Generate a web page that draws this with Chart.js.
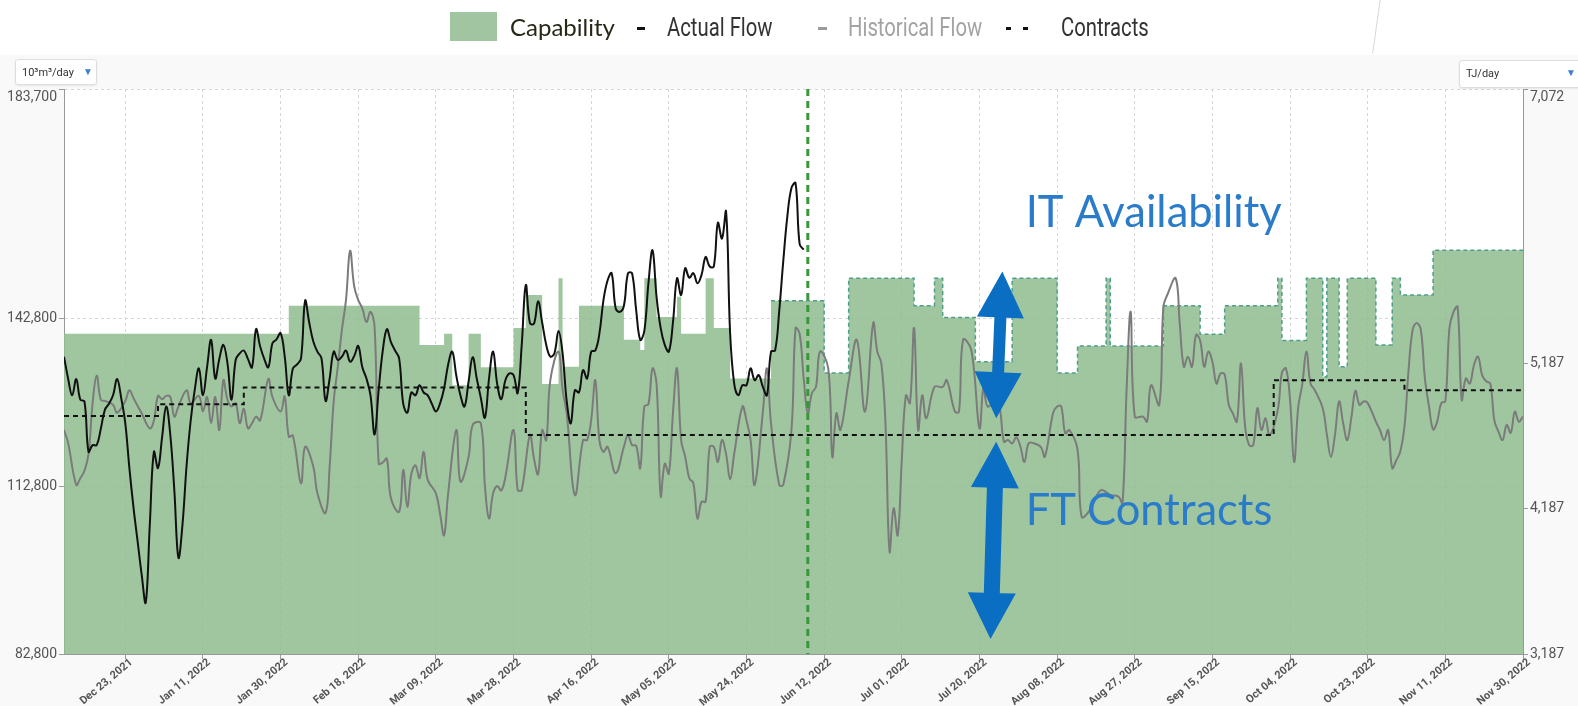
<!DOCTYPE html>
<html>
<head>
<meta charset="utf-8">
<title>Capability, flows and contracts</title>
<script src="https://cdn.jsdelivr.net/npm/chart.js@4/dist/chart.umd.min.js"></script>
<style>
  body { margin: 0; background: #fff; font-family: Roboto, sans-serif; }
  #page { position: relative; width: 1578px; height: 706px; overflow: hidden; }
  #panel { position: absolute; left: 0; top: 55px; right: 0; bottom: 0; background: #f9f9f9; }
  #flow { position: absolute; left: 0; top: 0; }
  .lg { position: absolute; top: 11px; height: 32px; line-height: 32px; white-space: nowrap; }
  .narrow { font-family: Roboto, sans-serif; font-size: 26px; transform: scaleX(0.78); transform-origin: 0 50%; }
  .dash { position: absolute; height: 3px; }
  .unit { position: absolute; background: #fff; border: 1px solid #dedede; border-radius: 3px;
          box-shadow: 0 1px 2px rgba(0,0,0,0.08); font-size: 11px; color: #333; }
  .unit span { position: absolute; top: 6px; }
  .unit .tri { color: #3f7fd0; font-size: 10px; top: 6px; }
  #scratch { position: absolute; left: 1376px; top: -2px; width: 1px; height: 56px; background: #d8d8d8; transform: rotate(8deg); }
</style>
</head>
<body>
<div id="page">
  <div id="panel"></div>
  <div id="scratch"></div>
  <canvas id="flow" width="1578" height="706"></canvas>

  <div class="lg" style="left:450px;width:47px;height:29px;top:12px;background:#a0c5a0;"></div>
  <div class="lg" style="left:510px;font-family:Lato,sans-serif;font-size:24px;color:#272716;">Capability</div>
  <div class="dash" style="left:637px;top:27px;width:8px;background:#111;"></div>
  <div class="lg narrow" style="left:667px;color:#333;">Actual Flow</div>
  <div class="dash" style="left:818px;top:27px;width:9px;background:#9a9a9a;"></div>
  <div class="lg narrow" style="left:848px;color:#a3a3a3;">Historical Flow</div>
  <div class="dash" style="left:1006px;top:27px;width:5px;background:#111;"></div>
  <div class="dash" style="left:1023px;top:27px;width:5px;background:#111;"></div>
  <div class="lg narrow" style="left:1061px;color:#333;">Contracts</div>

  <div class="unit" style="left:15px;top:59px;width:80px;height:24px;">
    <span style="left:6px;">10³m³/day</span><span class="tri" style="left:67px;">▼</span>
  </div>
  <div class="unit" style="left:1459px;top:60px;width:130px;height:26px;">
    <span style="left:6px;">TJ/day</span><span class="tri" style="left:106px;">▼</span>
  </div>
</div>

<script>
// days are counted from 8 Dec 2021 (day 0) to 30 Nov 2022 (day 357)
const tickDays = [15, 34, 53, 72, 91, 110, 129, 148, 167, 186, 205, 224, 243, 262, 281, 300, 319, 338, 357];
const tickLabels = ['Dec 23, 2021', 'Jan 11, 2022', 'Jan 30, 2022', 'Feb 18, 2022', 'Mar 09, 2022',
  'Mar 28, 2022', 'Apr 16, 2022', 'May 05, 2022', 'May 24, 2022', 'Jun 12, 2022', 'Jul 01, 2022',
  'Jul 20, 2022', 'Aug 08, 2022', 'Aug 27, 2022', 'Sep 15, 2022', 'Oct 04, 2022', 'Oct 23, 2022',
  'Nov 11, 2022', 'Nov 30, 2022'];
const leftTicks = [82800, 112800, 142800, 183700];   // 10³m³/day
const rightTicks = [3187, 4187, 5187, 7072];          // TJ/day

// capability (step changes: value holds from that day)
const capDays = [0, 55, 87, 93, 95, 99, 102, 110, 113, 117, 121, 122, 126, 137, 141, 142, 145, 150, 151,
  157, 159, 163, 173, 186, 192, 208, 213, 215, 223, 232, 243, 248, 255, 256, 269, 278, 284, 297, 298,
  304, 308, 309, 312, 314, 321, 325, 327, 335, 357];
const capValues = [140000, 145000, 138000, 140000, 130800, 140000, 134000, 141000, 146900, 131000, 149900,
  134100, 145000, 138900, 137100, 149900, 143000, 146600, 140000, 149900, 141000, 132000, 145900, 133000,
  149900, 145000, 149900, 142900, 135000, 149900, 133000, 137800, 149900, 137800, 145000, 139900, 145000,
  149900, 138800, 149900, 132300, 149900, 134100, 149900, 138000, 149900, 146900, 154900, 154900];

// firm contracts (step changes)
const contractDays = [0, 23, 44, 113, 296, 328, 357];
const contractValues = [125300, 127400, 130400, 121900, 131700, 129900, 129900];

// actual flow, daily, up to 7 Jun 2022
const actualFlow = [135900, 132000, 129000, 131900, 128200, 127900, 118900, 120100, 120100, 123000,
  126400, 127500, 129000, 131900, 128500, 124000, 116000, 109000, 103000, 97000,
  92000, 106000, 118900, 116000, 121500, 127000, 122000, 112000, 100000, 106000,
  116500, 124500, 130000, 133800, 129000, 134000, 138900, 132000, 135500, 138000,
  134700, 128200, 135300, 136500, 137000, 135500, 134000, 140800, 137700, 135500,
  134000, 138300, 139000, 140100, 136000, 129000, 133800, 134500, 135600, 145900,
  142000, 138600, 136800, 135600, 128000, 132000, 136800, 135300, 135900, 137000,
  135000, 136000, 137800, 134000, 132000, 129000, 122000, 130000, 137000, 140800,
  138500, 137000, 135600, 127500, 125900, 129500, 129000, 130800, 129500, 129000,
  127500, 126100, 127500, 130200, 134500, 136800, 132500, 129000, 127000, 131500,
  135800, 132000, 128500, 125000, 132000, 136800, 131000, 128300, 131700, 132900,
  132600, 129400, 138000, 148700, 141900, 141800, 145800, 142000, 138000, 135900,
  136500, 140500, 136500, 128000, 124000, 129900, 129500, 133500, 132000, 136800,
  137000, 140000, 146000, 149500, 150800, 144500, 143900, 145000, 150800, 150800,
  144200, 138900, 140500, 149000, 154900, 146500, 141000, 138000, 136800, 142000,
  149900, 146900, 151700, 150000, 150800, 149000, 150500, 153700, 152000, 152000,
  159800, 157000, 161800, 140000, 131000, 129000, 130800, 130800, 133800, 131700,
  132600, 130500, 129000, 136800, 137000, 144000, 153000, 161000, 166000, 166900,
  156000, 155000];

// historical flow (day, value)
const histDays = [0, 1, 3, 4, 5, 6, 7, 8, 9, 10, 12, 13, 15, 16, 17, 19, 21, 22, 23, 24, 25, 26, 27, 28,
  30, 31, 33, 34, 35, 36, 37, 38, 39, 40, 41, 42, 43, 44, 45, 46, 47, 48, 50, 51, 53, 54, 55, 56, 58, 59,
  61, 62, 64, 65, 66, 67, 68, 69, 70, 71, 72, 73, 74, 75, 76, 77, 78, 79, 80, 82, 83, 84, 85, 86, 87, 88,
  89, 91, 92, 93, 94, 96, 97, 99, 100, 102, 103, 104, 105, 106, 107, 108, 110, 111, 112, 114, 115, 116,
  117, 118, 119, 121, 122, 123, 125, 127, 128, 129, 130, 131, 132, 133, 135, 137, 138, 139, 140, 141, 142,
  143, 144, 145, 146, 147, 148, 149, 150, 151, 152, 153, 154, 155, 156, 157, 158, 159, 160, 161, 162, 163,
  164, 166, 167, 168, 169, 171, 172, 173, 175, 176, 178, 179, 180, 181, 182, 183, 184, 185, 187, 188, 189,
  190, 192, 194, 196, 198, 199, 200, 201, 202, 203, 204, 205, 206, 207, 208, 209, 210, 211, 213, 215, 216,
  218, 219, 220, 222, 224, 225, 226, 228, 229, 230, 231, 232, 233, 234, 235, 236, 237, 239, 240, 242, 243,
  244, 245, 246, 248, 249, 251, 253, 254, 256, 258, 259, 260, 261, 262, 264, 265, 266, 268, 269, 270, 272,
  273, 274, 275, 276, 277, 278, 279, 280, 281, 282, 283, 284, 285, 286, 287, 288, 289, 290, 291, 292, 293,
  294, 295, 297, 298, 299, 300, 301, 302, 303, 304, 305, 306, 308, 309, 310, 311, 312, 313, 314, 315, 316,
  317, 318, 319, 321, 322, 323, 324, 325, 326, 327, 328, 329, 330, 331, 332, 333, 334, 335, 336, 337, 338,
  339, 340, 341, 342, 343, 344, 345, 346, 347, 348, 349, 350, 351, 352, 353, 354, 355, 356, 357];
const histValues = [122800, 120500, 113000, 114200, 115500, 118500, 127600, 132500, 128200, 128000,
  127300, 125900, 128000, 129900, 128500, 125800, 123100, 124500, 128900, 128300, 128900, 128700, 125200,
  127000, 129900, 127600, 128900, 126100, 128700, 124000, 128700, 122800, 131700, 128200, 127000, 127600,
  124000, 126600, 123100, 124000, 125200, 124500, 131900, 128700, 126100, 128800, 121600, 121800, 113300,
  119800, 116300, 111500, 108000, 116300, 128000, 134100, 140700, 146000, 154800, 148500, 146000, 144500,
  142100, 143900, 141200, 116800, 117000, 117700, 110600, 108200, 115700, 109100, 115000, 116500, 114200,
  118900, 113900, 111500, 107900, 104000, 111500, 122800, 113600, 118000, 123700, 124000, 112700, 107000,
  111500, 112800, 112000, 114400, 122800, 112100, 112100, 121900, 117700, 114900, 122800, 121000, 131700,
  136800, 130000, 125800, 111200, 121000, 121000, 124600, 131700, 121000, 118900, 119800, 115100, 119800,
  121900, 120100, 120000, 116000, 127000, 127400, 133800, 131000, 111000, 116800, 115000, 125800, 133800,
  121000, 118000, 114200, 113300, 107000, 110000, 110000, 119800, 119800, 117100, 121000, 118500, 114000,
  118600, 127000, 124500, 121000, 113000, 126000, 133800, 124000, 113000, 113000, 122800, 141000, 140000,
  132000, 125800, 129400, 130500, 136800, 133800, 118000, 125800, 122800, 131500, 138900, 126100, 141900,
  136800, 134700, 124000, 101100, 108800, 104000, 117500, 129000, 127600, 141000, 122800, 129000, 124900,
  130500, 130500, 131700, 126100, 126100, 138900, 137100, 123100, 130500, 127000, 128000, 126500, 120700,
  121000, 120400, 121500, 119900, 117100, 120400, 120500, 119800, 118000, 125800, 127000, 127000, 122200,
  122800, 119300, 107300, 108500, 111500, 112100, 111200, 110900, 109700, 129900, 143900, 125200, 125200,
  124300, 130800, 127300, 144800, 147000, 149900, 141900, 134100, 135900, 134100, 139800, 138800, 134100,
  136800, 135000, 131100, 132900, 132700, 127300, 125800, 124300, 134700, 123400, 120100, 120100, 126700,
  122800, 124900, 121900, 126400, 133000, 133800, 128200, 117100, 126900, 131000, 136800, 131100, 130000,
  126700, 122000, 118000, 122000, 127900, 124000, 121000, 125000, 129800, 127300, 127900, 127600, 124300,
  122800, 121000, 122800, 116000, 117400, 119000, 123400, 133500, 140700, 141900, 140700, 132000, 127000,
  122900, 124300, 127600, 127900, 141000, 143900, 144800, 128200, 132000, 131100, 134400, 135900, 132600,
  131500, 131100, 124500, 122500, 121000, 123700, 122300, 126100, 124300, 125200];

const todayDay = 182;      // 8 Jun 2022
const forecastDay = 173;   // capability shown as forecast from here

// annotations in data units
const arrows = [
  { dayTop: 229.6, top: 151100, dayBottom: 228.1, bottom: 124900, shaft: 12, headW: 47, headL: 46 },
  { dayTop: 228.1, top: 120700, dayBottom: 226.7, bottom: 85500, shaft: 16, headW: 48, headL: 46 }
];
const notes = [
  { text: 'IT Availability', day: 235.3, value: 161500 },
  { text: 'FT Contracts', day: 235.3, value: 108300 }
];

function pairs(xs, ys) {
  return xs.map((x, i) => ({ x: x, y: ys[i] }));
}

// the top tick label sits just below the axis end
function axisLabel(v, top) {
  const s = v.toLocaleString('en-US');
  return v === top ? ['', s] : s;
}

function doubleArrow(ctx, x1, y1, x2, y2, a) {
  const len = Math.hypot(x2 - x1, y2 - y1);
  ctx.save();
  ctx.translate(x1, y1);
  ctx.rotate(Math.atan2(y2 - y1, x2 - x1));
  ctx.beginPath();
  ctx.moveTo(0, 0);
  ctx.lineTo(a.headL, -a.headW / 2);
  ctx.lineTo(a.headL, -a.shaft / 2);
  ctx.lineTo(len - a.headL, -a.shaft / 2);
  ctx.lineTo(len - a.headL, -a.headW / 2);
  ctx.lineTo(len, 0);
  ctx.lineTo(len - a.headL, a.headW / 2);
  ctx.lineTo(len - a.headL, a.shaft / 2);
  ctx.lineTo(a.headL, a.shaft / 2);
  ctx.lineTo(a.headL, a.headW / 2);
  ctx.closePath();
  ctx.fill();
  ctx.restore();
}

const extras = {
  id: 'extras',
  beforeDraw(chart) {
    const { ctx, chartArea: a } = chart;
    ctx.save();
    ctx.fillStyle = '#ffffff';
    ctx.fillRect(a.left, a.top, a.right - a.left, a.bottom - a.top);
    ctx.restore();
  },
  afterDatasetsDraw(chart) {
    const { ctx, chartArea: a } = chart;
    const x = chart.scales.x, y = chart.scales.y;

    // today marker
    const tx = x.getPixelForValue(todayDay);
    ctx.save();
    ctx.strokeStyle = '#3a963a';
    ctx.lineWidth = 3;
    ctx.setLineDash([7, 5]);
    ctx.beginPath();
    ctx.moveTo(tx, a.top);
    ctx.lineTo(tx, a.bottom);
    ctx.stroke();
    ctx.restore();

    ctx.save();
    ctx.fillStyle = '#0a6fc2';
    arrows.forEach(ar => {
      doubleArrow(ctx, x.getPixelForValue(ar.dayTop), y.getPixelForValue(ar.top),
        x.getPixelForValue(ar.dayBottom), y.getPixelForValue(ar.bottom), ar);
    });
    ctx.fillStyle = '#2a7bc9';
    ctx.font = '43.5px Lato, sans-serif';
    ctx.textAlign = 'left';
    ctx.textBaseline = 'middle';
    notes.forEach(n => {
      ctx.fillText(n.text, x.getPixelForValue(n.day), y.getPixelForValue(n.value));
    });
    ctx.restore();
  }
};

Chart.defaults.font.family = 'Roboto, sans-serif';

const chart = new Chart(document.getElementById('flow'), {
  type: 'line',
  data: {
    datasets: [
      {
        label: 'Actual Flow',
        data: actualFlow.map((v, i) => ({ x: i, y: v })),
        borderColor: '#111111',
        borderWidth: 2,
        tension: 0.4,
        pointRadius: 0,
        fill: false,
        order: 1
      },
      {
        label: 'Contracts',
        data: pairs(contractDays, contractValues),
        borderColor: '#111111',
        borderWidth: 2,
        borderDash: [5, 4],
        stepped: true,
        pointRadius: 0,
        fill: false,
        order: 2
      },
      {
        label: 'Historical Flow',
        data: pairs(histDays, histValues),
        borderColor: '#7b7b7b',
        borderWidth: 2,
        tension: 0.4,
        pointRadius: 0,
        fill: false,
        order: 3
      },
      {
        label: 'Capability',
        data: pairs(capDays, capValues),
        stepped: true,
        fill: 'start',
        backgroundColor: 'rgba(143, 188, 143, 0.85)',
        borderColor: 'rgba(0, 0, 0, 0)',
        borderWidth: 1.5,
        pointRadius: 0,
        segment: {
          borderColor: c => c.p0.parsed.x >= forecastDay ? '#4f9e8c' : 'rgba(0, 0, 0, 0)',
          borderDash: c => c.p0.parsed.x >= forecastDay ? [4, 3] : []
        },
        order: 4
      }
    ]
  },
  options: {
    responsive: false,
    animation: false,
    layout: { padding: { top: 89, left: 0, right: 0, bottom: 0 } },
    plugins: {
      legend: { display: false },
      tooltip: { enabled: false }
    },
    scales: {
      x: {
        type: 'linear',
        min: 0,
        max: 357,
        afterBuildTicks: s => { s.ticks = tickDays.map(v => ({ value: v })); },
        afterFit: s => { s.height = 52; },
        ticks: {
          autoSkip: false,
          minRotation: 40,
          maxRotation: 40,
          padding: -3,
          labelOffset: 6,
          color: '#555',
          font: { size: 11, weight: 'bold' },
          callback: v => tickLabels[tickDays.indexOf(v)]
        },
        grid: { color: '#d6d6d6', tickColor: '#999', tickLength: 5 },
        border: { color: '#999', dash: [3, 3] }
      },
      y: {
        position: 'left',
        min: 82800,
        max: 183700,
        afterBuildTicks: s => { s.ticks = leftTicks.map(v => ({ value: v })); },
        afterFit: s => { s.width = 64; },
        ticks: {
          padding: 2,
          color: '#555',
          font: { size: 14 },
          callback: v => axisLabel(v, leftTicks[leftTicks.length - 1])
        },
        grid: { color: '#d6d6d6', tickColor: '#999', tickLength: 5 },
        border: { color: '#999', dash: [3, 3] }
      },
      y2: {
        position: 'right',
        min: 3187,
        max: 7072,
        afterBuildTicks: s => { s.ticks = rightTicks.map(v => ({ value: v })); },
        afterFit: s => { s.width = 55; },
        ticks: {
          padding: 2,
          color: '#555',
          font: { size: 14 },
          callback: v => axisLabel(v, rightTicks[rightTicks.length - 1])
        },
        grid: { drawOnChartArea: false, tickColor: '#999', tickLength: 5 },
        border: { color: '#999' }
      }
    }
  },
  plugins: [extras]
});
</script>
</body>
</html>
